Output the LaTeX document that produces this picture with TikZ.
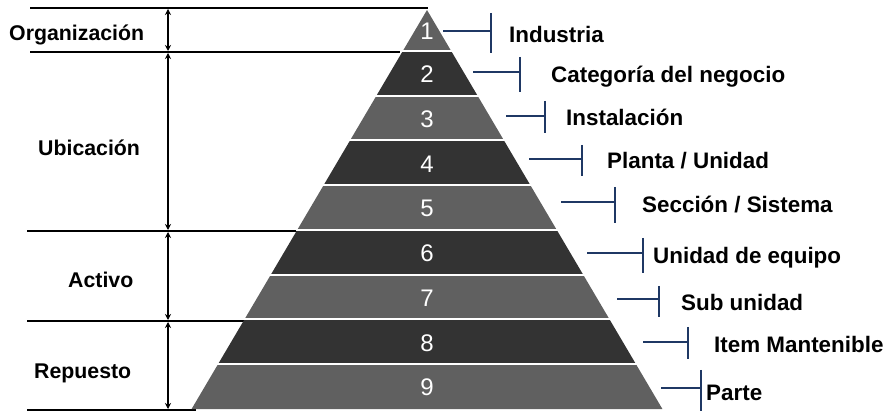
\documentclass[tikz,border=0pt]{standalone}
\usepackage{fontspec}
\setmainfont{Liberation Sans}
\usetikzlibrary{arrows.meta}
\definecolor{bandlight}{RGB}{96,96,96}
\definecolor{banddark}{RGB}{51,51,51}
\definecolor{leadblue}{RGB}{31,56,100}
\begin{document}
\begin{tikzpicture}[x=1pt,y=-1pt,
  rule/.style={line width=2pt,black},
  span/.style={line width=1.8pt,black,{Stealth[length=6pt,width=6pt]}-{Stealth[length=6pt,width=6pt]}},
  levelnum/.style={text=white,font=\fontsize{24}{24}\selectfont,inner sep=0pt},
  leader/.style={leadblue,line width=1.8pt},
  lvl/.style={anchor=base west,inner sep=0pt,font=\bfseries\fontsize{22.4}{23}\selectfont},
  grp/.style={anchor=base west,inner sep=0pt,font=\bfseries\fontsize{21.3}{22}\selectfont}]
\useasboundingbox (0,0) rectangle (894,411);

% group boundary rules
\coordinate (r1a) at (30,8);   \coordinate (r1b) at (428,8);
\coordinate (r2a) at (30,52);  \coordinate (r2b) at (400,52);
\coordinate (r3a) at (27,231); \coordinate (r3b) at (302,231);
\coordinate (r4a) at (27,321); \coordinate (r4b) at (252,321);
\coordinate (r5a) at (27,410); \coordinate (r5b) at (196,410);
\foreach \i in {1,...,5} \draw[rule] (r\i a) -- (r\i b);

% span arrows between the rules
\foreach \i/\y in {1/8,2/52,3/231,4/321,5/410} \coordinate (s\i) at (168,\y);
\foreach \i/\j in {1/2,2/3,3/4,4/5} \draw[span,shorten <=1pt,shorten >=1pt] (s\i) -- (s\j);

% group labels
\node[grp] (gorg) at (9,40.5) {Organización};
\node[grp] (gubi) at (38,156) {Ubicación};
\node[grp] (gact) at (68,287.5) {Activo};
\node[grp] (grep) at (34,379) {Repuesto};

% pyramid bands
\foreach \k/\col in {1/bandlight,2/banddark,3/bandlight,4/banddark,5/bandlight,6/banddark,7/bandlight,8/banddark,9/bandlight} {
  \pgfmathsetmacro\ybot{51+44.75*(\k-1)}
  \pgfmathsetmacro\ytop{ifthenelse(\k==1,10,51+44.75*(\k-2))}
  \pgfmathsetmacro\wbot{0.59*(\ybot-10)}
  \pgfmathsetmacro\wtop{0.59*(\ytop-10)}
  \fill[\col] (427-\wtop,\ytop) -- (427+\wtop,\ytop) -- (427+\wbot,\ybot) -- (427-\wbot,\ybot) -- cycle;
  \pgfmathsetmacro\ymid{(\ytop+\ybot)/2+1}
  \node[levelnum] (n\k) at (427,\ymid) {\k};
}
% white gaps between bands
\foreach \k in {1,...,8} {
  \pgfmathsetmacro\ybot{51+44.75*(\k-1)}
  \pgfmathsetmacro\wbot{0.59*(\ybot-10)+1}
  \draw[white,line width=2pt] (427-\wbot,\ybot) -- (427+\wbot,\ybot);
}

% leaders and level names
\foreach \k/\xs/\xv/\y/\vt/\vb/\xl/\bl/\txt in {
  1/443/491/31/13/53/509/42.3/{Industria},
  2/473/520/72/57/92/551/83/{Categoría del negocio},
  3/506/545/116/101/133/566/125.5/{Instalación},
  4/529/582/159/145/176/607/168.5/{Planta / Unidad},
  5/561/615/202/187/223/642/213/{Sección / Sistema},
  6/587/643/253/238/273/653/264/{Unidad de equipo},
  7/617/659/299/286/317/681/311/{Sub unidad},
  8/643/688/342/327/359/714/353/{Item Mantenible},
  9/661/701/388/370/411/706/400/{Parte}} {
  \coordinate (a\k) at (\xs,\y);
  \coordinate (b\k) at (\xv,\y);
  \coordinate (bt\k) at (\xv,\vt);
  \coordinate (bb\k) at (\xv,\vb);
  \draw[leader] (a\k) -- (b\k);
  \draw[leader] (bt\k) -- (bb\k);
  \node[lvl] (l\k) at (\xl,\bl) {\txt};
}
\end{tikzpicture}
\end{document}
